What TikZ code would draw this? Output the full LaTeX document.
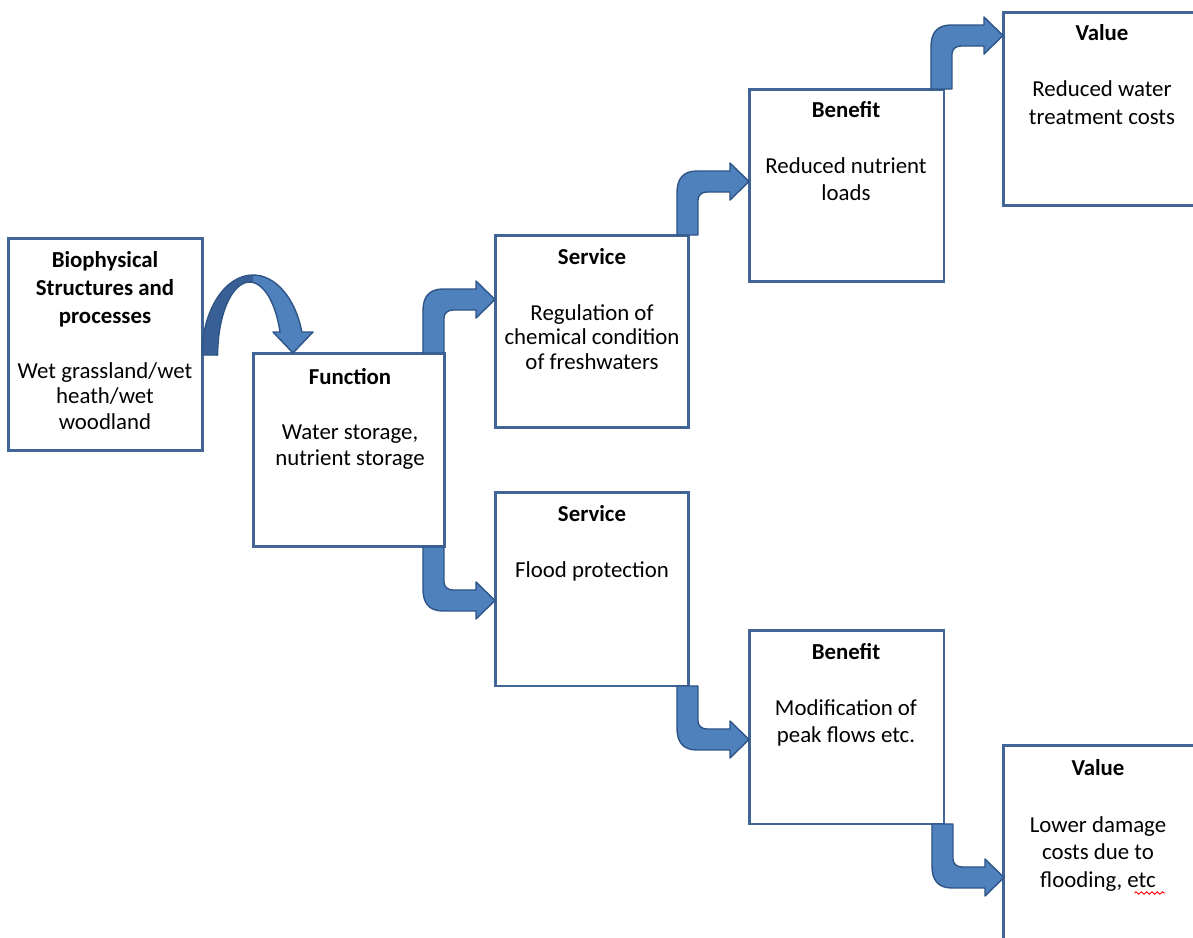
\documentclass[tikz,border=0pt]{standalone}
\usepackage{fontspec}
\setmainfont{Carlito}
\usetikzlibrary{calc,decorations.pathmorphing}
\definecolor{boxline}{RGB}{65,101,150}
\definecolor{arrowfill}{RGB}{79,129,189}
\definecolor{arrowdark}{RGB}{56,96,150}
\definecolor{arrowline}{RGB}{47,84,135}
\newcommand\bentarrow[2]{%
  \begin{scope}[shift={(#1)}, yscale=#2]
    \filldraw[blockarrow] (0,0) -- (0,-42) .. controls (0,-56) and (6,-64) .. (20,-64)
      -- (53,-64) -- (53,-72) -- (72,-53.5) -- (53,-35) -- (53,-43) -- (30,-43)
      .. controls (25,-43) and (21,-40) .. (21,-35) -- (21,0) -- cycle;
  \end{scope}}
\newcommand\curvedshape{(202,355) arc[start angle=180, end angle=343.3, x radius=51, y radius=80]
  -- (313,332) -- (293,353) -- (273,332) -- (280,332)
  arc[start angle=341.6, end angle=180, x radius=32, y radius=73] -- cycle}
\begin{document}
\begin{tikzpicture}[x=0.02cm, y=-0.02cm,
  every node/.append style={font=\fontsize{13}{14.8}\selectfont},
  box/.style={draw=boxline, line width=1.7pt, fill=white, rectangle, inner sep=0pt, outer sep=0pt},
  title/.style={font=\fontsize{13}{14.8}\selectfont\bfseries, anchor=base, inner sep=0pt, align=center},
  body/.style={anchor=base, inner sep=0pt, align=center},
  blockarrow/.style={fill=arrowfill, draw=arrowline, line width=0.8pt, line join=round}]
\clip (0,0) rectangle (1193,937);
\fill[white] (0,0) rectangle (1193,937);
% boxes
\node[box, minimum width=3.9cm, minimum height=4.26cm] (bio) at (105.5,344.5) {};
\node[box, minimum width=3.84cm, minimum height=3.88cm] (fun) at (349,450) {};
\node[box, minimum width=3.88cm, minimum height=3.86cm] (svc1) at (592,331.5) {};
\node[box, minimum width=3.88cm, minimum height=3.88cm] (svc2) at (592,589) {};
\node[box, minimum width=3.9cm, minimum height=3.86cm] (ben1) at (846.5,185.5) {};
\node[box, minimum width=3.9cm, minimum height=3.88cm] (ben2) at (846.5,727) {};
\node[box, minimum width=3.9cm, minimum height=3.88cm] (val1) at (1100.5,109) {};
\node[box, minimum width=3.9cm, minimum height=3.88cm] (val2) at (1100.5,842) {};
% texts (base anchor = baseline of the last line)
\node[title, font=\fontsize{13}{15.9}\selectfont\bfseries] (biot) at (105,323) {Biophysical\\Structures and\\processes};
\node[body, font=\fontsize{13}{14.5}\selectfont] (biob) at (105,429) {Wet grassland/wet\\heath/wet\\woodland};
\node[title] (funt) at (350,384) {Function};
\node[body, font=\fontsize{13}{14.7}\selectfont] (funb) at (350,465) {Water storage,\\nutrient storage};
\node[title] (svc1t) at (592,264) {Service};
\node[body, font=\fontsize{13}{13.9}\selectfont] (svc1b) at (592,369) {Regulation of\\chemical condition\\of freshwaters};
\node[title] (svc2t) at (592,521) {Service};
\node[body] (svc2b) at (592,577) {Flood protection};
\node[title] (ben1t) at (846,117) {Benefit};
\node[body, font=\fontsize{13}{15.3}\selectfont] (ben1b) at (846,200) {Reduced nutrient\\loads};
\node[title] (ben2t) at (846,659) {Benefit};
\node[body, font=\fontsize{13}{15.3}\selectfont] (ben2b) at (846,742) {Modification of\\peak flows etc.};
\node[title] (val1t) at (1102,40) {Value};
\node[body, font=\fontsize{13}{15.6}\selectfont] (val1b) at (1102,124) {Reduced water\\treatment costs};
\node[title] (val2t) at (1098,775) {Value};
\node[body, font=\fontsize{13}{15.6}\selectfont] (val2b) at (1098,887) {Lower damage\\costs due to\\flooding, etc};
\coordinate (sq1) at ($(val2b.base east)+(-32,6)$);
\coordinate (sq2) at ($(val2b.base east)+(-1,6)$);
\draw[red, line width=0.5pt, decorate, decoration={snake, amplitude=0.7pt, segment length=3pt}] (sq1) -- (sq2);
% curved arrow from bio to function
\path[fill=arrowfill] \curvedshape;
\begin{scope}
  \clip (190,260) rectangle (253,360);
  \path[fill=arrowdark] \curvedshape;
\end{scope}
\draw[arrowline, line width=0.8pt, line join=round] \curvedshape;
% bent arrows
\bentarrow{$(fun.north east)+(-22,0)$}{1}
\bentarrow{$(fun.south east)+(-22,0)$}{-1}
\bentarrow{$(svc1.north east)+(-12,0)$}{1}
\bentarrow{$(svc2.south east)+(-12,0)$}{-1}
\bentarrow{$(ben1.north east)+(-13,0)$}{1}
\bentarrow{$(ben2.south east)+(-12,0)$}{-1}
\end{tikzpicture}
\end{document}
